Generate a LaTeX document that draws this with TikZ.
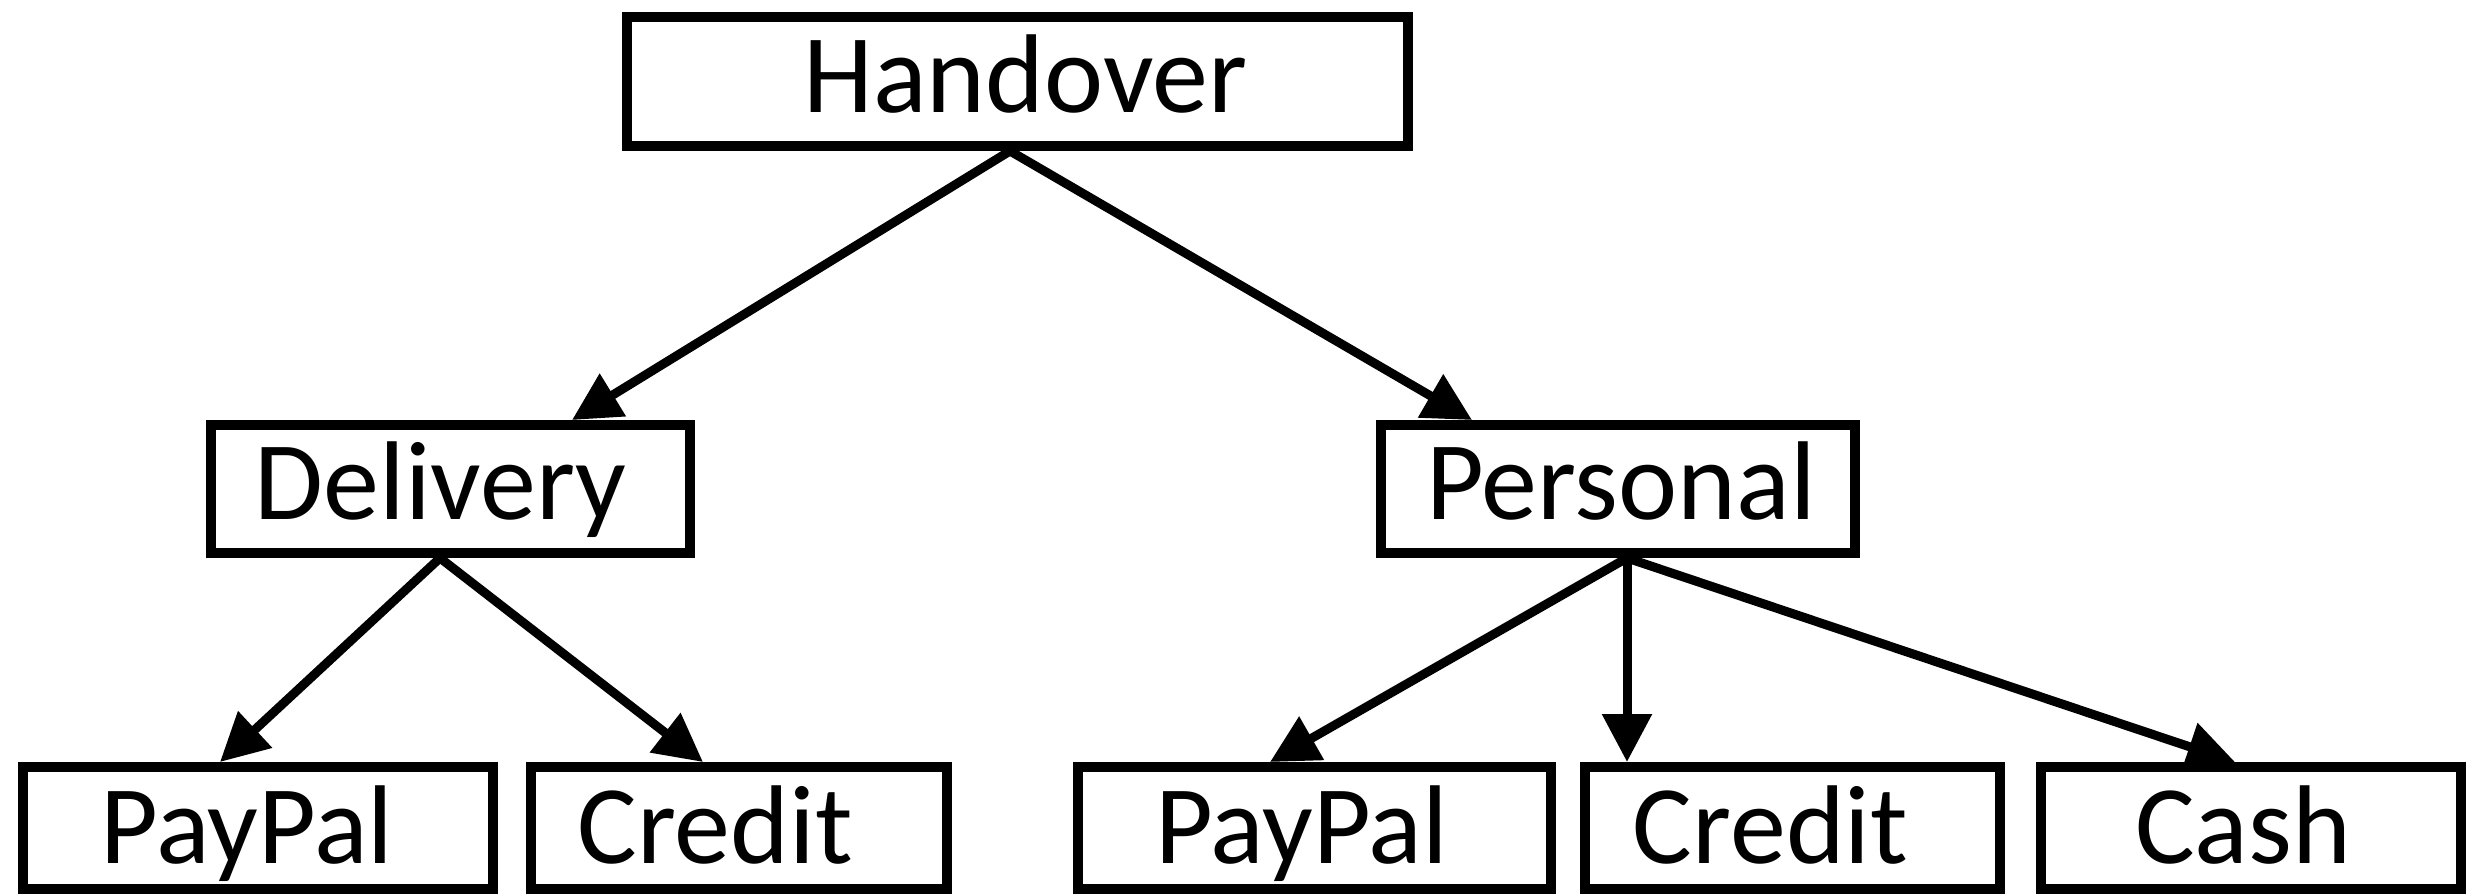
\documentclass[tikz,border=0pt]{standalone}
\usepackage{fontspec}
\setmainfont{Carlito}
\usetikzlibrary{arrows.meta}
\begin{document}
\begin{tikzpicture}[x=1pt,y=-1pt,
  box/.style={draw=black,line width=10pt,fill=white,inner sep=0pt,
    font=\fontsize{112pt}{134pt}\selectfont,text height=71pt,text depth=10pt},
  lowbox/.style={box,minimum height=122pt,text depth=0pt},
  arr/.style={draw=black,line width=9pt,-{Triangle[length=48pt,width=48pt]}}]
\useasboundingbox (0,0) rectangle (2476,895);
% boxes
\node[box,minimum width=781pt,minimum height=129pt] (hand) at (1017.5,81.5) {\hspace*{16pt}Handover};
\node[box,minimum width=479pt,minimum height=128pt] (del) at (450.5,489) {\hspace*{-20pt}Delivery};
\node[box,minimum width=474pt,minimum height=128pt] (pers) at (1618,489) {\hspace*{6pt}Personal};
\node[lowbox,minimum width=470pt] (pp1) at (258,828) {\hspace*{-22pt}PayPal};
\node[lowbox,minimum width=416pt] (cr1) at (739,828) {\hspace*{-48pt}Credit};
\node[lowbox,minimum width=473pt] (pp2) at (1314.5,828) {\hspace*{-26pt}PayPal};
\node[lowbox,minimum width=415pt] (cr2) at (1792.5,828) {\hspace*{-44pt}Credit};
\node[lowbox,minimum width=420pt] (cash) at (2251,828) {\hspace*{-16pt}Cash};
% connectors
\draw[arr] ([xshift=-7.5pt]hand.south) -- ([xshift=121.5pt]del.north);
\draw[arr] ([xshift=-7.5pt]hand.south) -- ([xshift=-146pt]pers.north);
\draw[arr] ([xshift=-10.5pt]del.south) -- ([xshift=-38pt]pp1.north);
\draw[arr] ([xshift=-10.5pt]del.south) -- ([xshift=-36pt]cr1.north);
\draw[arr] ([xshift=9pt]pers.south) -- ([xshift=-44.5pt]pp2.north);
\draw[arr] ([xshift=9pt]pers.south) -- ([xshift=-165.5pt]cr2.north);
\draw[arr] ([xshift=9pt]pers.south) -- ([xshift=-16pt]cash.north);
\end{tikzpicture}
\end{document}
